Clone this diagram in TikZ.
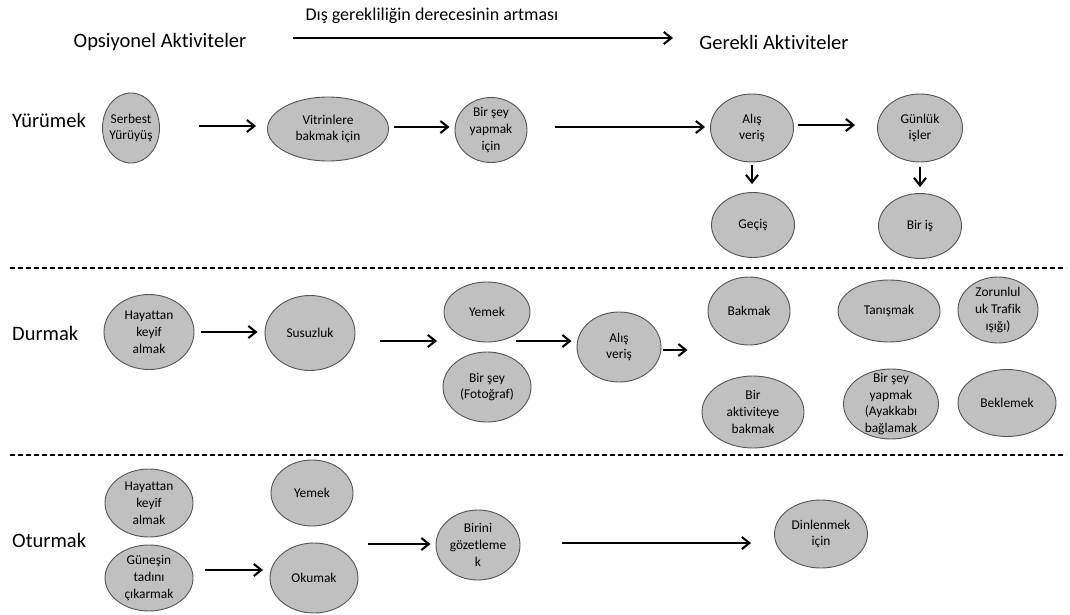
\documentclass[tikz,border=0pt]{standalone}
\usepackage{fontspec}
\setmainfont{Carlito}[Ligatures={NoCommon}]
\usetikzlibrary{shapes.geometric,arrows.meta}
\definecolor{ellfill}{HTML}{C0C0C0}
\definecolor{elldraw}{HTML}{555555}
\tikzset{
  act/.style 2 args={ellipse, draw=elldraw, fill=ellfill, line width=0.9pt,
    minimum width=#1, minimum height=#2, inner sep=0pt},
  txt/.style={align=center, font=\fontsize{13.4}{16.8}\selectfont, inner sep=0pt},
  arr/.style={line width=2.1pt, -{Straight Barb[length=7.5pt,width=12pt,line width=2.1pt]}},
  sep/.style={line width=1.4pt, dash pattern=on 5pt off 3pt},
  big/.style={font=\fontsize{20.5}{24}\selectfont, inner sep=0pt},
  topt/.style={font=\fontsize{18}{22}\selectfont, inner sep=0pt},
  rowlab/.style={font=\fontsize{20.5}{24}\selectfont, inner sep=0pt, anchor=west},
}
\begin{document}
\begin{tikzpicture}[x=1pt,y=-1pt]
\useasboundingbox (0,0) rectangle (1070,615);
\fill[white] (0,0) rectangle (1070,615);

% header
\node[topt] (top) at (432,16) {Dış gerekliliğin derecesinin artması};
\node[big] (opt) at (160,42) {Opsiyonel Aktiviteler};
\node[big] (req) at (774,42) {Gerekli Aktiviteler};
\coordinate (ha) at (293,38);
\coordinate (hb) at (673,38);
\draw[arr] (ha) -- (hb);

% row labels
\node[rowlab] (l1) at (12,120) {Yürümek};
\node[rowlab] (l2) at (12,333) {Durmak};
\node[rowlab] (l3) at (12,540) {Oturmak};

% separators
\coordinate (d1a) at (10,268);
\coordinate (d1b) at (1066,268);
\coordinate (d2a) at (10,455);
\coordinate (d2b) at (1066,455);
\draw[sep] (d1a) -- (d1b);
\draw[sep] (d2a) -- (d2b);

% row 1
\node[act={57}{70}, label={[txt]center:{Serbest\\Yürüyüş}}] (a1) at (131,128) {};
\node[act={121}{64}, label={[txt]center:{Vitrinlere\\bakmak için}}] (a2) at (328,129) {};
\node[act={72}{65}, label={[txt]center:{Bir şey\\yapmak\\için}}] (a3) at (491,130) {};
\node[act={83}{68}, label={[txt]center:{Alış\\veriş}}] (a4) at (752,128) {};
\node[act={85}{68}, label={[txt]center:{Günlük\\işler}}] (a5) at (920,128) {};
\node[act={83}{65}, label={[txt]center:{Geçiş}}] (a6) at (753,225) {};
\node[act={83}{65}, label={[txt]center:{Bir iş}}] (a7) at (920,226) {};

\draw[arr] ([xshift=39,yshift=2]a1.east) -- ([xshift=-11,yshift=2]a1.east -| a2.west);
\draw[arr] ([xshift=5,yshift=2]a2.east) -- ([xshift=-5,yshift=2]a2.east -| a3.west);
\draw[arr] ([xshift=28,yshift=3]a3.east) -- ([xshift=-5,yshift=3]a3.east -| a4.west);
\draw[arr] ([xshift=4,yshift=3]a4.east) -- ([xshift=-22,yshift=3]a4.east -| a5.west);
\draw[arr] ([yshift=-3]a4.south) -- ([yshift=8]a4.south |- a6.north);
\draw[arr] ([yshift=-5]a5.south) -- ([yshift=6]a5.south |- a7.north);

% row 2
\node[act={90}{75}, label={[txt]center:{Hayattan\\keyif\\almak}}] (b1) at (149,332) {};
\node[act={90}{75}, label={[txt]center:{Susuzluk}}] (b2) at (310,333) {};
\node[act={86}{60}, label={[txt]center:{Yemek}}] (b3) at (487,312) {};
\node[act={88}{70}, label={[txt]center:{Bir şey\\(Fotoğraf)}}] (b4) at (487,387) {};
\node[act={84}{70}, label={[txt]center:{Alış\\veriş}}] (b5) at (619,347) {};
\node[act={82}{68}, label={[txt]center:{Bakmak}}] (b6) at (749,311) {};
\node[act={102}{72}, label={[txt]center:{Bir\\aktiviteye\\bakmak}}] (b7) at (753,412) {};
\node[act={102}{62}, label={[txt]center:{Tanışmak}}] (b8) at (889,311) {};
\node[act={95}{70}, label={[txt]center:{Bir şey\\yapmak\\(Ayakkabı\\bağlamak}}] (b9) at (891,404) {};
\node[act={80}{66}, label={[txt]center:{Zorunlul\\uk Trafik\\ışığı)}}] (b10) at (998,310) {};
\node[act={98}{67}, label={[txt]center:{Beklemek}}] (b11) at (1007,403) {};

\draw[arr] ([xshift=7]b1.east) -- ([xshift=-7]b1.east -| b2.west);
\coordinate (g1) at (437,341);
\draw[arr] ([xshift=25,yshift=-8]b2.east) -- (g1);
\coordinate (g2) at (516,341);
\draw[arr] (g2) -- ([xshift=-5]g2 -| b5.west);
\draw[arr] ([xshift=2,yshift=-3]b5.east) -- ([xshift=-20,yshift=-3]b5.east -| b6.west);

% row 3
\node[act={88}{68}, label={[txt]center:{Hayattan\\keyif\\almak}}] (c1) at (149,503) {};
\node[act={88}{66}, label={[txt]center:{Güneşin\\tadını\\çıkarmak}}] (c2) at (149,578) {};
\node[act={82}{66}, label={[txt]center:{Yemek}}] (c3) at (312,493) {};
\node[act={88}{70}, label={[txt]center:{Okumak}}] (c4) at (314,578) {};
\node[act={84}{70}, label={[txt]center:{Birini\\gözetleme\\k}}] (c5) at (478,545) {};
\node[act={93}{68}, label={[txt]center:{Dinlenmek\\için}}] (c6) at (821,534) {};

\coordinate (h1) at (205,570);
\coordinate (h2) at (263,570);
\draw[arr] (h1) -- (h2);
\coordinate (h3) at (368,544);
\draw[arr] (h3) -- ([xshift=-5]h3 -| c5.west);
\draw[arr] ([xshift=42,yshift=2]c5.east) -- ([xshift=-23,yshift=2]c5.east -| c6.west);
\end{tikzpicture}
\end{document}
